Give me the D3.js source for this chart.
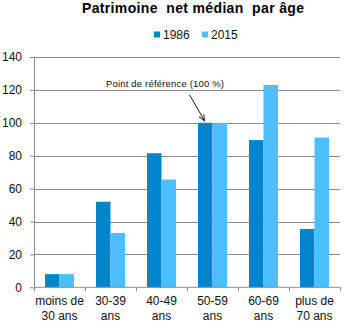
<!DOCTYPE html>
<html><head><meta charset="utf-8">
<script src="https://cdn.jsdelivr.net/npm/d3@7"></script>
<style>body{margin:0;background:#fff}svg{display:block;font-family:"Liberation Sans",Arial,sans-serif}</style>
</head><body><svg id="c" width="354" height="327"></svg>
<script>
const categories = ["moins de|30 ans", "30-39|ans", "40-49|ans", "50-59|ans", "60-69|ans", "plus de|70 ans"];
const series = ["1986", "2015"];
const values1986 = [8, 52, 81.5, 100, 89.5, 35.5];
const values2015 = [8, 33, 65.5, 100, 123, 91];
const yTicks = [0, 20, 40, 60, 80, 100, 120, 140];
const colors = ["#0084CC", "#4DBFFF"];

const svg = d3.select("#c");
const plotLeft = 34, plotRight = 340, plotTop = 57, plotBottom = 287.3;

const x = d3.scaleBand().domain(categories).range([plotLeft, plotRight]).paddingInner(0).paddingOuter(0);
const xs = d3.scaleBand().domain(series).range([0, x.bandwidth()]).paddingInner(0).paddingOuter(0.76);
const y = d3.scaleLinear().domain([0, 140]).range([plotBottom, plotTop]);

// gridlines
svg.append("g").selectAll("line").data(yTicks.filter(d => d > 0)).join("line")
  .attr("x1", plotLeft).attr("x2", plotRight)
  .attr("y1", d => Math.round(y(d)) + 0.5).attr("y2", d => Math.round(y(d)) + 0.5)
  .attr("stroke", "#8c8c8c").attr("stroke-width", 1);

// bars
const data = categories.map((c, i) => ({c, vals: [values1986[i], values2015[i]]}));
const g = svg.append("g").selectAll("g").data(data).join("g")
  .attr("transform", d => `translate(${x(d.c)},0)`);
g.selectAll("rect").data(d => d.vals.map((v, k) => ({s: series[k], v, k}))).join("rect")
  .attr("x", d => xs(d.s)).attr("width", xs.bandwidth())
  .attr("y", d => y(d.v)).attr("height", d => y(0) - y(d.v))
  .attr("fill", d => colors[d.k]);

// y axis
const ya = svg.append("g").attr("transform", `translate(${plotLeft},0)`)
  .call(d3.axisLeft(y).tickValues(yTicks).tickSize(4).tickPadding(8));
ya.select(".domain").attr("stroke", "#8c8c8c").attr("d", `M0.5,${plotTop}V${plotBottom}`);
ya.selectAll(".tick line").attr("stroke", "#8c8c8c");
ya.selectAll("text").attr("font-size", 12).attr("fill", "#111").attr("font-family", "Liberation Sans, Arial, sans-serif");

// x axis
const xa = svg.append("g").attr("transform", `translate(0,${plotBottom})`)
  .call(d3.axisBottom(x).tickSize(0).tickFormat(""));
xa.select(".domain").attr("stroke", "#8c8c8c").attr("d", `M${plotLeft},0H${plotRight}`);
svg.append("g").selectAll("line").data(d3.range(categories.length + 1)).join("line")
  .attr("x1", i => plotLeft + i * x.step() + 0.5).attr("x2", i => plotLeft + i * x.step() + 0.5)
  .attr("y1", plotBottom).attr("y2", plotBottom + 4).attr("stroke", "#8c8c8c");
const xl = svg.append("g").selectAll("text").data(categories).join("text")
  .attr("x", d => x(d) + x.bandwidth() / 2).attr("y", 305)
  .attr("text-anchor", "middle").attr("font-size", 12).attr("fill", "#111");
xl.each(function(d) {
  const parts = d.split("|");
  d3.select(this).selectAll("tspan").data(parts).join("tspan")
    .attr("x", x(d) + x.bandwidth() / 2).attr("dy", (p, i) => i ? 14.5 : 0).text(p => p);
});

// title
svg.append("text").attr("x", 82).attr("y", 13)
  .attr("font-size", 14).attr("font-weight", "bold").attr("fill", "#000")
  .attr("textLength", 222).attr("lengthAdjust", "spacing")
  .attr("xml:space", "preserve").text("Patrimoine  net médian  par âge");

// legend
const lg = svg.append("g").selectAll("g").data(series).join("g")
  .attr("transform", (d, i) => `translate(${154 + i * 48},31.5)`);
lg.append("rect").attr("x", 0).attr("y", 0).attr("width", 6).attr("height", 6).attr("fill", (d, i) => colors[i]);
lg.append("text").attr("x", 9).attr("y", 7.5).attr("font-size", 12).attr("fill", "#111").text(d => d);

// annotation pointing at the 50-59 reference bar
const tipX = x(categories[3]) + xs(series[0]) + xs.bandwidth() * 0.45;
const tipY = y(100) - 2;
svg.append("defs").append("marker").attr("id", "ah").attr("viewBox", "0 0 10 10")
  .attr("refX", 9).attr("refY", 5).attr("markerWidth", 7).attr("markerHeight", 7)
  .attr("orient", "auto").append("path").attr("d", "M0,1L9,5L0,9").attr("fill", "none").attr("stroke", "#111").attr("stroke-width", 1.3);
svg.append("line").attr("x1", tipX - 15).attr("y1", tipY - 26).attr("x2", tipX).attr("y2", tipY)
  .attr("stroke", "#111").attr("stroke-width", 1).attr("marker-end", "url(#ah)");
svg.append("text").attr("x", 106).attr("y", 87)
  .attr("font-size", 9.5).attr("fill", "#111")
  .attr("textLength", 118).attr("lengthAdjust", "spacing")
  .text("Point de référence (100 %)");
</script></body></html>
